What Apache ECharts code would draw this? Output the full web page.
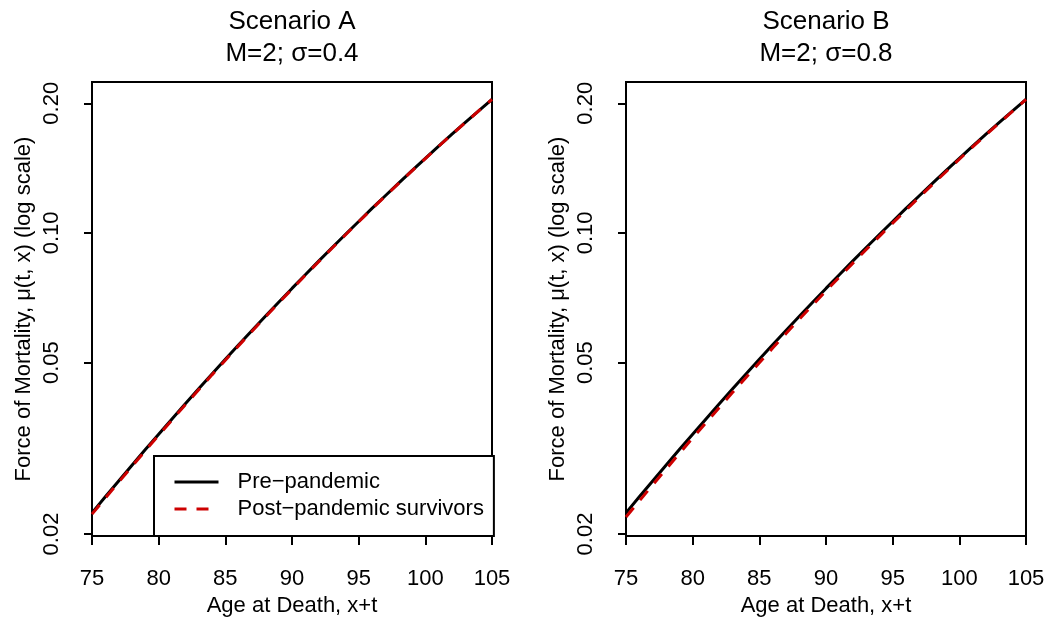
<!DOCTYPE html>
<html>
<head>
<meta charset="utf-8">
<script src="https://cdn.jsdelivr.net/npm/echarts@6/dist/echarts.min.js"></script>
<style>
  html, body { margin: 0; padding: 0; background: #fff; }
  #chart { width: 1046px; height: 617px; }
</style>
</head>
<body>
<div id="chart"></div>
<script>
// Age at death (x+t)
const ages = [75, 76, 77, 78, 79, 80, 81, 82, 83, 84, 85, 86, 87, 88, 89, 90,
              91, 92, 93, 94, 95, 96, 97, 98, 99, 100, 101, 102, 103, 104, 105];

// Scenario A: M=2, sigma=0.4
const preA = [0.02239, 0.02440, 0.02656, 0.02890, 0.03142, 0.03411, 0.03701, 0.04013,
              0.04347, 0.04706, 0.05088, 0.05499, 0.05937, 0.06405, 0.06904, 0.07434,
              0.08000, 0.08600, 0.09242, 0.09917, 0.1063, 0.1140, 0.1220, 0.1305,
              0.1395, 0.1490, 0.1590, 0.1695, 0.1805, 0.1921, 0.2043];
const postA = [0.02224, 0.02424, 0.02639, 0.02872, 0.03123, 0.03392, 0.03681, 0.03992,
               0.04325, 0.04683, 0.05065, 0.05475, 0.05913, 0.06380, 0.06878, 0.07409,
               0.07974, 0.08574, 0.09216, 0.09892, 0.1061, 0.1138, 0.1218, 0.1303,
               0.1393, 0.1488, 0.1589, 0.1694, 0.1804, 0.1921, 0.2043];

// Scenario B: M=2, sigma=0.8
const preB = [0.02239, 0.02440, 0.02656, 0.02890, 0.03142, 0.03411, 0.03701, 0.04013,
              0.04347, 0.04706, 0.05088, 0.05499, 0.05937, 0.06405, 0.06904, 0.07434,
              0.08000, 0.08600, 0.09242, 0.09917, 0.1063, 0.1140, 0.1220, 0.1305,
              0.1395, 0.1490, 0.1590, 0.1695, 0.1805, 0.1921, 0.2043];
const postB = [0.02190, 0.02387, 0.02600, 0.02829, 0.03076, 0.03341, 0.03627, 0.03935,
               0.04265, 0.04619, 0.04996, 0.05404, 0.05842, 0.06306, 0.06803, 0.07333,
               0.07898, 0.08499, 0.09140, 0.09817, 0.1054, 0.1130, 0.1211, 0.1297,
               0.1387, 0.1483, 0.1584, 0.1690, 0.1800, 0.1918, 0.2041];

// Axis ticks
const xTicks = [75, 80, 85, 90, 95, 100, 105];
const yTicks = [0.02, 0.05, 0.1, 0.2];
const yTickLabels = ['0.02', '0.05', '0.10', '0.20'];

const panelTitles = ['Scenario A\nM=2; \u03c3=0.4', 'Scenario B\nM=2; \u03c3=0.8'];
const seriesNames = ['Pre\u2212pandemic', 'Post\u2212pandemic survivors'];

const FONT = "'Liberation Sans', Arial, sans-serif";
const RED = '#CD0000';

const pair = arr => ages.map((a, i) => [a, arr[i]]);

const panels = [
  { left: 92, pre: preA, post: postA },
  { left: 626, pre: preB, post: postB }
];

const option = {
  animation: false,
  backgroundColor: '#fff',
  textStyle: { fontFamily: FONT, color: '#000' },
  title: panels.map((p, i) => ({
    text: panelTitles[i],
    left: p.left + 200,
    textAlign: 'center',
    top: 6,
    padding: 0,
    textStyle: { fontFamily: FONT, fontSize: 26, fontWeight: 'normal', lineHeight: 32, color: '#000' }
  })),
  grid: panels.map(p => ({
    left: p.left, top: 82, width: 400, height: 454,
    outerBoundsMode: 'none',
    containLabel: false,
    show: true, borderColor: '#000', borderWidth: 2, backgroundColor: 'transparent'
  })),
  xAxis: panels.map((p, i) => ({
    gridIndex: i,
    type: 'value',
    min: 75, max: 105, interval: 5,
    axisLine: { show: true, onZero: false, lineStyle: { color: '#000', width: 2 } },
    axisTick: { show: true, length: 9, lineStyle: { color: '#000', width: 2 }, customValues: xTicks },
    axisLabel: { fontFamily: FONT, fontSize: 22, color: '#000', margin: 32, customValues: xTicks },
    splitLine: { show: false },
    name: 'Age at Death, x+t',
    nameLocation: 'middle',
    nameGap: 49,
    nameTextStyle: { fontFamily: FONT, fontSize: 22, color: '#000' }
  })),
  yAxis: panels.map((p, i) => ({
    gridIndex: i,
    type: 'log',
    logBase: 10,
    min: 0.01979, max: 0.2241,
    axisLine: { show: true, lineStyle: { color: '#000', width: 2 } },
    axisTick: { show: true, length: 8, lineStyle: { color: '#000', width: 2 }, customValues: yTicks },
    minorTick: { show: false },
    axisLabel: {
      fontFamily: FONT, fontSize: 22, color: '#000', rotate: 90, margin: 29,
      customValues: yTicks,
      formatter: v => {
        const k = yTicks.findIndex(t => Math.abs(t - v) < 1e-9);
        return k >= 0 ? yTickLabels[k] : '';
      }
    },
    splitLine: { show: false },
    name: 'Force of Mortality, \u03bc(t, x) (log scale)',
    nameLocation: 'middle',
    nameRotate: 90,
    nameGap: 57,
    nameTextStyle: { fontFamily: FONT, fontSize: 22, color: '#000' }
  })),
  legend: {
    orient: 'vertical',
    left: 154,
    top: 456,
    data: seriesNames,
    backgroundColor: '#fff',
    borderColor: '#000',
    borderWidth: 2,
    borderRadius: 0,
    padding: [15, 10, 16, 19],
    itemWidth: 44,
    itemHeight: 14,
    itemGap: 5,
    selectedMode: false,
    itemStyle: { opacity: 0 },
    lineStyle: { width: 3 },
    textStyle: { fontFamily: FONT, fontSize: 22, color: '#000', lineHeight: 22, padding: [0, 0, 0, 14] }
  },
  series: panels.flatMap((p, i) => [
    {
      name: seriesNames[0], type: 'line', xAxisIndex: i, yAxisIndex: i,
      data: pair(p.pre), symbol: 'none', smooth: false,
      lineStyle: { color: '#000', width: 3 }, itemStyle: { color: '#000' }, z: 2
    },
    {
      name: seriesNames[1], type: 'line', xAxisIndex: i, yAxisIndex: i,
      data: pair(p.post), symbol: 'none', smooth: false,
      lineStyle: { color: RED, width: 3, type: [12, 10] }, itemStyle: { color: RED }, z: 3
    }
  ])
};

const chart = echarts.init(document.getElementById('chart'), null, { renderer: 'canvas' });
chart.setOption(option);
</script>
</body>
</html>
